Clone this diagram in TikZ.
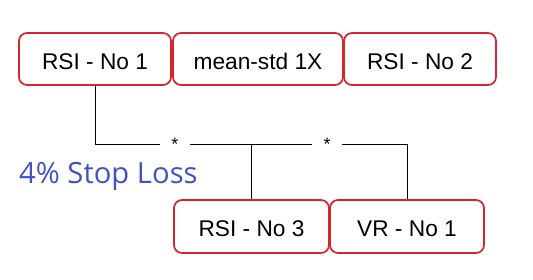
\documentclass[tikz,border=0pt]{standalone}
\usepackage{fontspec}
\setmainfont{Liberation Sans}
\newfontfamily\stopfont{Open Sans}
\definecolor{boxred}{RGB}{214,36,44}
\definecolor{slblue}{RGB}{66,82,196}
\tikzset{
  rbox/.style={draw=boxred, line width=1.7pt, rounded corners=8pt, fill=white,
    inner sep=0pt, text height=20.3pt, text depth=0pt,
    font=\fontsize{22.7}{26}\selectfont},
  conn/.style={draw=black, line width=0.9pt},
  star/.style={fill=white, inner sep=0pt, minimum width=30pt, minimum height=10pt,
    font=\fontsize{18}{18}\selectfont}
}
\begin{document}
\begin{tikzpicture}[x=1pt,y=-1pt]
\useasboundingbox (0,0) rectangle (533,279);
\node[rbox, minimum width=152pt, minimum height=52pt] (b1) at (95,59) {RSI - No 1};
\node[rbox, minimum width=170pt, minimum height=52pt] (b2) at (258,59) {mean-std 1X};
\node[rbox, minimum width=152pt, minimum height=52pt] (b3) at (420,59) {RSI - No 2};
\node[rbox, minimum width=155pt, minimum height=53pt] (b4) at (251.5,226.5) {RSI - No 3};
\node[rbox, minimum width=154pt, minimum height=53pt] (b5) at (407,226.5) {VR - No 1};
\coordinate (j) at (0,144);
\draw[conn] (b1.south) -- (b1.south |- j) -- (b5.north |- j) -- (b5.north);
\draw[conn] (b4.north) -- (b4.north |- j);
\node[star] (s1) at (175,144) {\raisebox{-8pt}{*}};
\node[star] (s2) at (327,144) {\raisebox{-4pt}{*}};
\node[anchor=base west, inner sep=0pt, text=slblue, font=\stopfont\fontsize{29.2}{30}\selectfont] (sl) at (19,183) {4\% Stop Loss};
\end{tikzpicture}
\end{document}
